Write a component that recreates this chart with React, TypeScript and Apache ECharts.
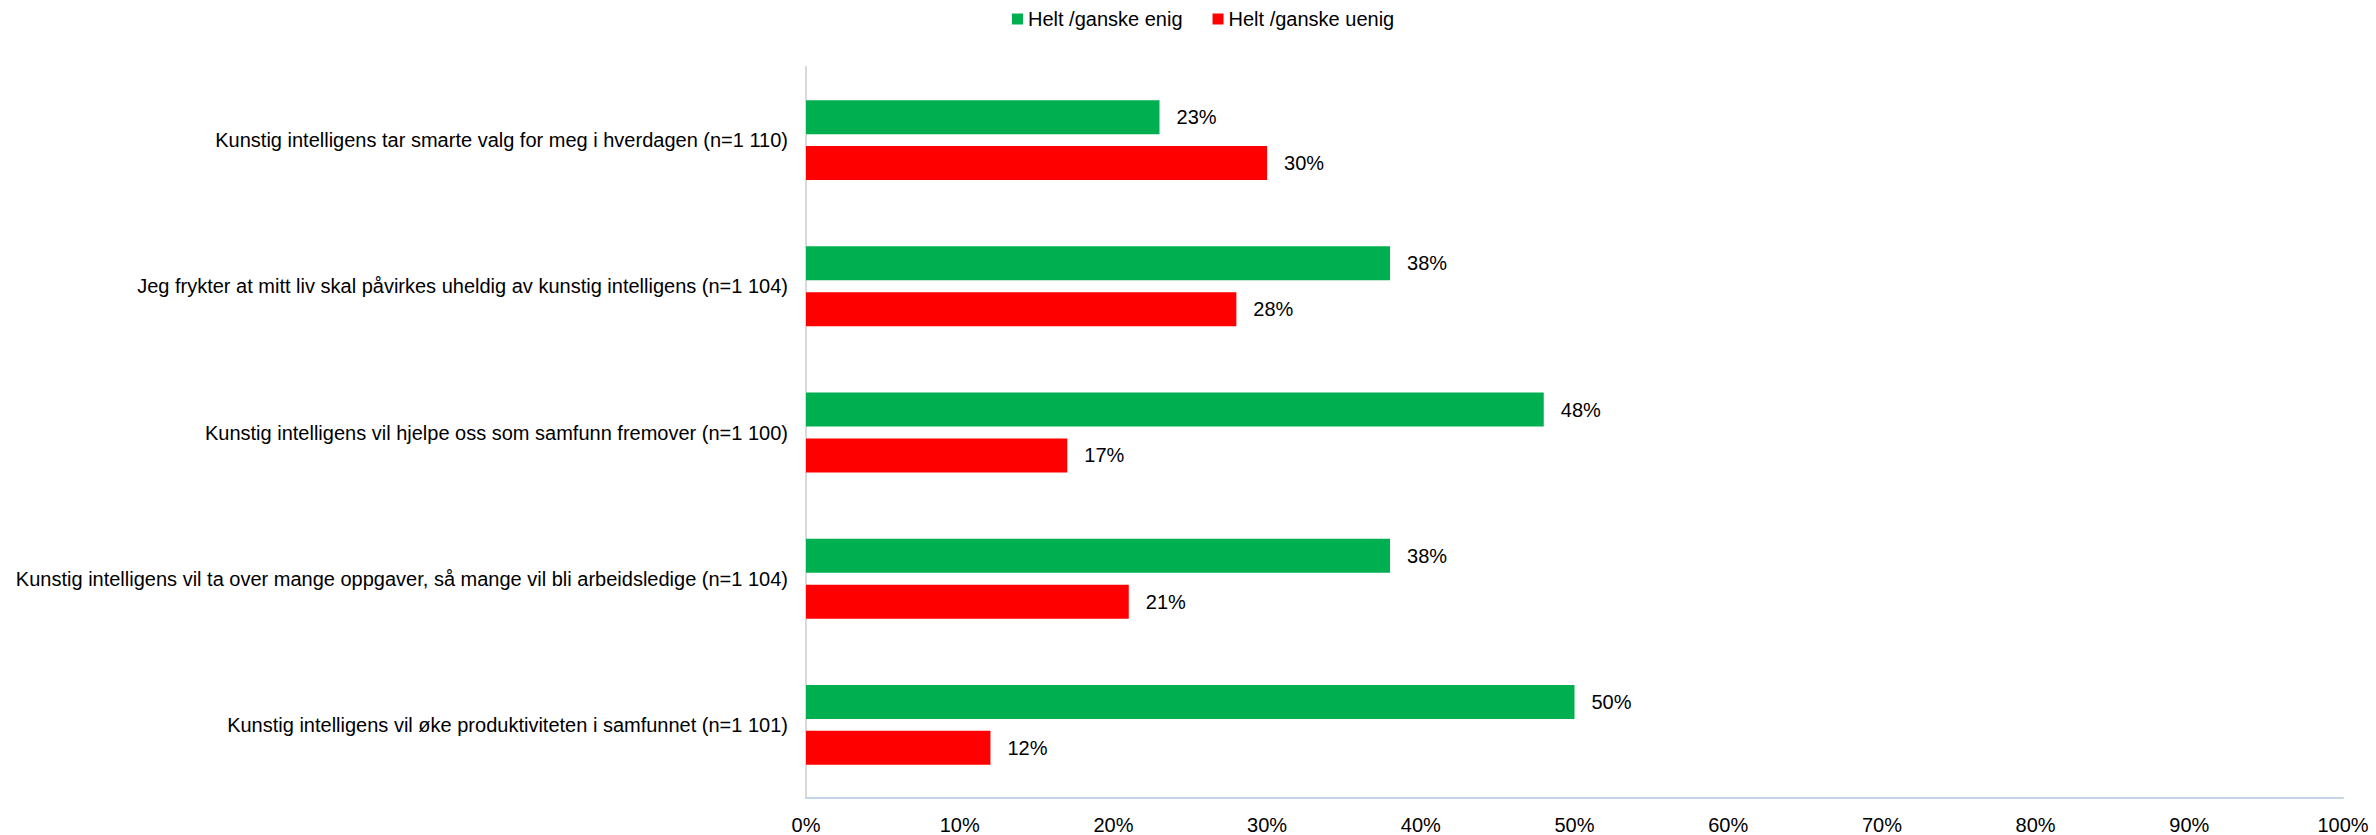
import React, { useEffect, useRef } from "react";
import * as echarts from "echarts";

const categories = [
  "Kunstig intelligens tar smarte valg for meg i hverdagen (n=1 110)",
  "Jeg frykter at mitt liv skal påvirkes uheldig av kunstig intelligens (n=1 104)",
  "Kunstig intelligens vil hjelpe oss som samfunn fremover (n=1 100)",
  "Kunstig intelligens vil ta over mange oppgaver, så mange vil bli arbeidsledige (n=1 104)",
  "Kunstig intelligens vil øke produktiviteten i samfunnet (n=1 101)",
];
const seriesNames = ["Helt /ganske enig", "Helt /ganske uenig"];
const agree = [23, 38, 48, 38, 50];
const disagree = [30, 28, 17, 21, 12];

const FONT = "'Liberation Sans', Arial, sans-serif";

export default function App() {
  const ref = useRef<HTMLDivElement>(null);
  useEffect(() => {
    if (!ref.current) return;
    const chart = echarts.init(ref.current, undefined, { renderer: "svg" });
    const label = {
      show: true,
      position: "right",
      distance: 17,
      formatter: "{c}%",
      fontSize: 20,
      fontFamily: FONT,
      color: "#000",
    };
    chart.setOption({
      animation: false,
      textStyle: { fontFamily: FONT },
      legend: {
        top: 4,
        left: 1007,
        itemWidth: 11,
        itemHeight: 11,
        itemGap: 30,
        icon: "rect",
        textStyle: { fontSize: 20, fontFamily: FONT, color: "#000" },
        data: seriesNames,
      },
      grid: { left: 806, right: 33, top: 67, bottom: 35, containLabel: false },
      xAxis: {
        type: "value",
        min: 0,
        max: 100,
        interval: 10,
        splitLine: { show: false },
        axisLine: { show: true, lineStyle: { color: "#C5D5E8", width: 2 } },
        axisTick: { show: false },
        axisLabel: {
          formatter: "{value}%",
          fontSize: 20,
          fontFamily: FONT,
          color: "#000",
          margin: 17,
        },
      },
      yAxis: {
        type: "category",
        inverse: true,
        data: categories,
        axisLine: { show: true, lineStyle: { color: "#D9D9D9", width: 2 } },
        axisTick: { show: false },
        axisLabel: { fontSize: 20, fontFamily: FONT, color: "#000", margin: 18 },
      },
      series: [
        {
          name: seriesNames[0],
          type: "bar",
          data: agree,
          barWidth: 34,
          barGap: "35%",
          itemStyle: { color: "#00B050" },
          label,
        },
        {
          name: seriesNames[1],
          type: "bar",
          data: disagree,
          barWidth: 34,
          barGap: "35%",
          itemStyle: { color: "#FF0000" },
          label,
        },
      ],
    });
    return () => chart.dispose();
  }, []);
  return (
    <div
      ref={ref}
      style={{ position: "fixed", left: 0, top: 0, width: 2376, height: 835, background: "#fff" }}
    />
  );
}
